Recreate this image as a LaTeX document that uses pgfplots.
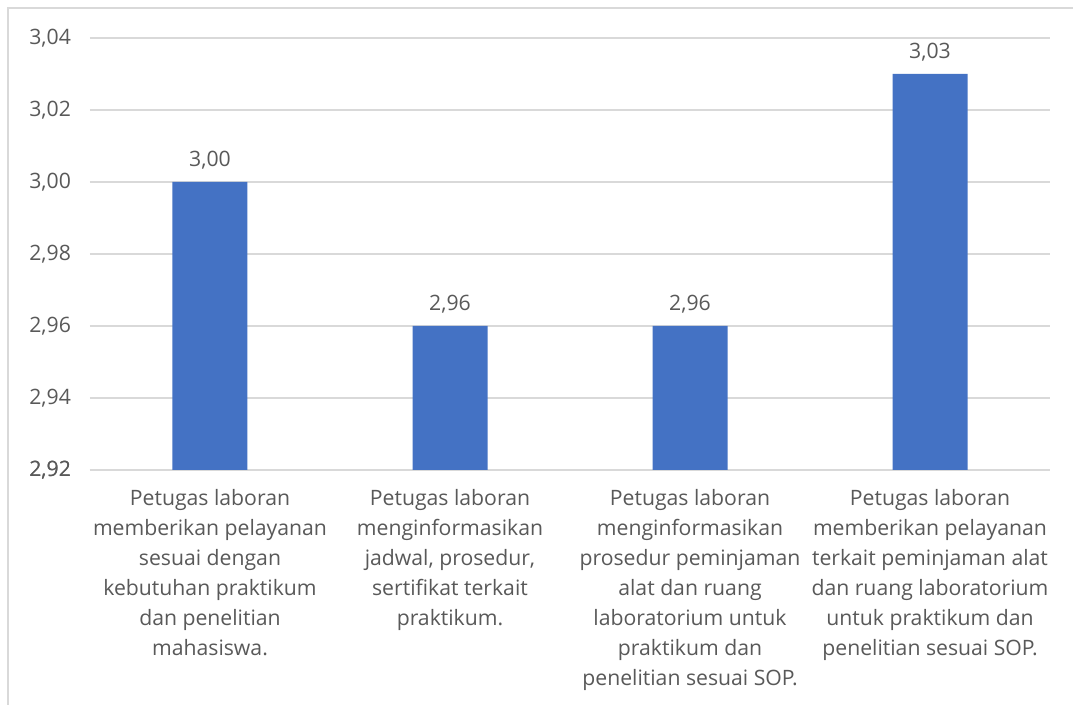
\documentclass[border=0pt]{standalone}
\usepackage{pgfplots}
\pgfplotsset{compat=1.18}
\usepackage{fontspec}
\setmainfont{Open Sans}
\definecolor{barblue}{HTML}{4472C4}
\definecolor{txtgray}{HTML}{595959}
\definecolor{gridgray}{HTML}{D9D9D9}
\begin{document}
\begin{tikzpicture}[x=0.5pt,y=0.5pt]
\useasboundingbox (0,0) rectangle (1073,705);
\fill[white] (0,0) rectangle (1073,705);
\draw[gridgray, line width=1pt] (8,0) -- (8,697) -- (1073,697);
\begin{axis}[
  at={(90pt*0.5,235pt*0.5)}, anchor=south west,
  scale only axis, width=480pt, height=216pt,
  xmin=-0.5, xmax=3.5, ymin=2.92, ymax=3.04,
  ytick={2.92,2.94,...,3.04},
  axis line style={draw=none},
  ymajorgrids, grid style={gridgray, line width=0.9pt},
  extra y ticks={2.92}, extra y tick style={grid style={gridgray,line width=1pt}},
  major tick length=0pt,
  xtick={0,1,2,3},
  xticklabels={
    {Petugas laboran\\memberikan pelayanan\\sesuai dengan\\kebutuhan praktikum\\dan penelitian\\mahasiswa.},
    {Petugas laboran\\menginformasikan\\jadwal, prosedur,\\sertifikat terkait\\praktikum.},
    {Petugas laboran\\menginformasikan\\prosedur peminjaman\\alat dan ruang\\laboratorium untuk\\praktikum dan\\penelitian sesuai SOP.},
    {Petugas laboran\\memberikan pelayanan\\terkait peminjaman alat\\dan ruang laboratorium\\untuk praktikum dan\\penelitian sesuai SOP.}},
  xticklabel style={align=center, font=\fontsize{10.6}{15}\selectfont, text=txtgray, anchor=north, yshift=-6pt},
  yticklabel style={font=\fontsize{10.6}{15}\selectfont, text=txtgray, xshift=-6pt},
  /pgf/number format/.cd, use comma, fixed, fixed zerofill, precision=2, assume math mode=true,
  /pgfplots/.cd,
  ybar, bar width=37.5pt,
  nodes near coords,
  nodes near coords style={font=\fontsize{10.6}{15}\selectfont, text=txtgray, yshift=3pt, /pgf/number format/.cd, use comma, fixed, fixed zerofill, precision=2, assume math mode=true},
  clip=false,
]
\addplot[fill=barblue, draw=none] coordinates {(0,3.00) (1,2.96) (2,2.96) (3,3.03)};
\end{axis}
\end{tikzpicture}
\end{document}
